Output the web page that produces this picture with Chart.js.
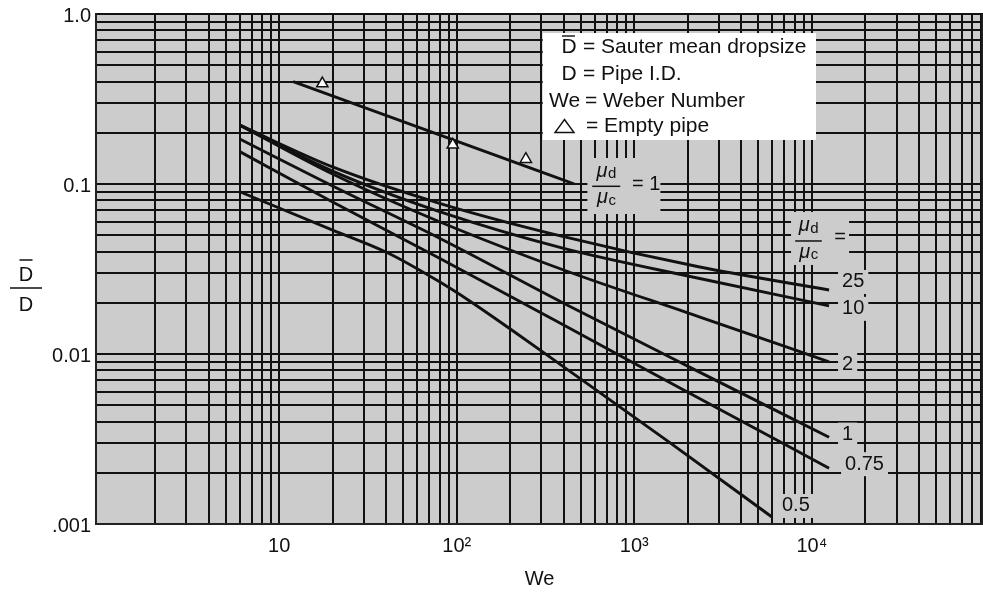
<!DOCTYPE html>
<html>
<head>
<meta charset="utf-8">
<script src="https://cdn.jsdelivr.net/npm/chart.js@4"></script>
<style>
  html, body { margin: 0; padding: 0; background: #fff; }
</style>
</head>
<body>
<canvas id="chart" width="983" height="593"></canvas>
<script>
// D/D against Weber number, one curve per viscosity ratio
const ratioLabels = ['25', '10', '2', '1', '0.75', '0.5'];
const weRatio = [6, 20, 80, 400, 2300, 12500];
const d25 = [0.222, 0.126, 0.077, 0.049, 0.0326, 0.0238];
const d10 = [0.222, 0.119, 0.0687, 0.0418, 0.0279, 0.0192];
const d2 = [0.222, 0.1145, 0.060, 0.0312, 0.0166, 0.0090];
const d1 = [0.184, 0.0973, 0.048, 0.0199, 0.00788, 0.00324];
const d075 = [0.155, 0.0784, 0.0366, 0.0148, 0.00551, 0.00213];
const we05 = [6, 20, 41, 80, 116, 205, 400, 1550, 5960];
const d05 = [0.090, 0.0536, 0.0393, 0.0266, 0.0208, 0.0138, 0.0084, 0.00306, 0.0011];

// empty pipe: fitted line (mu_d/mu_c = 1) and measured points
const weEmptyFit = [12, 460];
const dEmptyFit = [0.40, 0.10];
const weEmptyPipe = [17.5, 95, 245];
const dEmptyPipe = [0.39, 0.17, 0.14];

const xTickValues = [10, 100, 1000, 10000];
const xTickLabels = ['10', '10²', '10³', '10⁴'];
const yTickValues = [1, 0.1, 0.01, 0.001];
const yTickLabels = ['1.0', '0.1', '0.01', '.001'];

const family = '"Liberation Sans", Arial, Helvetica, sans-serif';
const ink = '#111111';
const plotGray = '#cccccc';

function font(size, style) {
    return (style ? style + ' ' : '') + size + 'px ' + family;
}

function pts(xs, ys) {
    return xs.map((x, i) => ({x: x, y: ys[i]}));
}

// 1..9 x 10^n grid positions between lo and hi
function logGrid(lo, hi) {
    var out = [];
    for (var e = -4; e <= 6; e++) {
        for (var m = 1; m <= 9; m++) {
            var v = m * Math.pow(10, e);
            if (v >= lo * 0.999 && v <= hi * 1.001) out.push({value: v});
        }
    }
    return out;
}

function labelFor(values, labels, v) {
    for (var i = 0; i < values.length; i++) {
        if (Math.abs(values[i] - v) / values[i] < 1e-6) return labels[i];
    }
    return '';
}

function curve(label, xs, ys) {
    return {
        label: label,
        data: pts(xs, ys),
        showLine: true,
        borderColor: ink,
        borderWidth: 2.9,
        pointRadius: 0,
        cubicInterpolationMode: 'monotone',
    };
}

function endOf(chart, label) {
    var i = chart.data.datasets.findIndex(d => d.label === label);
    var p = chart.getDatasetMeta(i).data;
    return p[p.length - 1];
}

function muSub(ctx, cx, baseline, sub) {
    ctx.font = font(20, 'italic');
    var w1 = ctx.measureText('μ').width;
    ctx.font = font(15);
    var w2 = ctx.measureText(sub).width;
    var x0 = cx - (w1 + w2) / 2;
    ctx.textAlign = 'left';
    ctx.textBaseline = 'alphabetic';
    ctx.font = font(20, 'italic');
    ctx.fillText('μ', x0, baseline);
    ctx.font = font(15);
    ctx.fillText(sub, x0 + w1 + 0.5, baseline + 1.5);
}

function muFraction(ctx, cx, barY, half) {
    ctx.strokeStyle = ink;
    ctx.lineWidth = 1.5;
    ctx.beginPath();
    ctx.moveTo(cx - half, barY);
    ctx.lineTo(cx + half, barY);
    ctx.stroke();
    ctx.fillStyle = ink;
    muSub(ctx, cx, barY - 9.5, 'd');
    muSub(ctx, cx, barY + 17, 'c');
}

// no extra room for first/last tick labels: the plot fills the canvas edge
function noScalePadding(s) {
    s.paddingLeft = 0;
    s.paddingRight = 0;
    s.paddingTop = 0;
    s.paddingBottom = 0;
}

const plotBackground = {
    id: 'plotBackground',
    beforeDraw(chart) {
        const {ctx, chartArea: a} = chart;
        ctx.save();
        ctx.fillStyle = '#ffffff';
        ctx.fillRect(0, 0, chart.width, chart.height);
        ctx.fillStyle = plotGray;
        ctx.fillRect(a.left, a.top, a.right - a.left, a.bottom - a.top);
        ctx.restore();
    },
    beforeDatasetsDraw(chart) {
        const {ctx, chartArea: a} = chart;
        ctx.save();
        ctx.strokeStyle = '#222';
        ctx.lineWidth = 1.5;
        ctx.beginPath();
        ctx.moveTo(a.right - 0.75, a.top);
        ctx.lineTo(a.right - 0.75, a.bottom);
        ctx.stroke();
        ctx.restore();
    }
};

// where each ratio label sits relative to the end of its curve
const labelOffsets = {'25': [13, -8], '10': [13, 3], '2': [13, 2.5], '1': [13, -2.6], '0.75': [16, -4], '0.5': [10, -11]};

const annotations = {
    id: 'annotations',
    afterDatasetsDraw(chart) {
        const ctx = chart.ctx;
        ctx.save();

        // ratio labels on gray patches
        ratioLabels.forEach(function (lab) {
            var e = endOf(chart, lab);
            var off = labelOffsets[lab];
            var x = e.x + off[0], y = e.y + off[1];
            ctx.font = font(20);
            var w = ctx.measureText(lab).width;
            ctx.fillStyle = plotGray;
            ctx.fillRect(x - 4, y - 12, w + 8, 24);
            ctx.fillStyle = ink;
            ctx.textAlign = 'left';
            ctx.textBaseline = 'middle';
            ctx.fillText(lab, x, y);
        });

        // "mu_d / mu_c =" header above the labels
        var e25 = endOf(chart, '25');
        ctx.fillStyle = plotGray;
        ctx.fillRect(e25.x - 38, e25.y - 78, 58, 53);
        muFraction(ctx, e25.x - 20.6, e25.y - 49, 13.3);
        ctx.font = font(20);
        ctx.textAlign = 'center';
        ctx.textBaseline = 'middle';
        ctx.fillText('=', e25.x + 11, e25.y - 52);

        // "mu_d / mu_c = 1" at the end of the empty pipe line
        var ee = endOf(chart, 'empty');
        ctx.fillStyle = plotGray;
        ctx.fillRect(ee.x + 13, ee.y - 26, 73, 56);
        muFraction(ctx, ee.x + 31.8, ee.y + 2.3, 14);
        ctx.fillStyle = ink;
        ctx.font = font(20);
        ctx.textAlign = 'left';
        ctx.textBaseline = 'middle';
        ctx.fillText('= 1', ee.x + 57.7, ee.y + 0.6);

        // key box
        ctx.fillStyle = '#ffffff';
        ctx.fillRect(542.7, 33, 273.3, 107);
        ctx.fillStyle = ink;
        ctx.font = font(21);
        ctx.textAlign = 'left';
        ctx.textBaseline = 'alphabetic';
        ctx.fillText('D', 561.5, 53.3);
        ctx.fillText('= Sauter mean dropsize', 583, 53.3);
        ctx.fillText('D', 561.5, 80);
        ctx.fillText('= Pipe I.D.', 583, 80);
        ctx.fillText('We', 549, 106.7);
        ctx.fillText('= Weber Number', 585, 106.7);
        ctx.fillText('= Empty pipe', 586, 131.5);
        ctx.strokeStyle = ink;
        ctx.lineWidth = 1.4;
        ctx.beginPath();
        ctx.moveTo(562, 36);
        ctx.lineTo(575, 36);
        ctx.stroke();
        ctx.beginPath();
        ctx.moveTo(564.5, 119.5);
        ctx.lineTo(574, 132.5);
        ctx.lineTo(555, 132.5);
        ctx.closePath();
        ctx.stroke();

        // y title: D-bar over D
        ctx.font = font(20);
        ctx.textAlign = 'center';
        ctx.textBaseline = 'alphabetic';
        ctx.fillText('D', 26, 280.5);
        ctx.fillText('D', 26, 310.7);
        ctx.beginPath();
        ctx.moveTo(19.5, 260);
        ctx.lineTo(32.5, 260);
        ctx.moveTo(10, 288);
        ctx.lineTo(42, 288);
        ctx.stroke();

        ctx.restore();
    }
};

new Chart(document.getElementById('chart'), {
    type: 'scatter',
    data: {
        datasets: [
            {
                label: 'empty pipe',
                data: pts(weEmptyPipe, dEmptyPipe),
                pointStyle: 'triangle',
                pointRadius: 6.5,
                backgroundColor: '#ffffff',
                borderColor: ink,
                borderWidth: 1.5,
            },
            curve('empty', weEmptyFit, dEmptyFit),
            curve('25', weRatio, d25),
            curve('10', weRatio, d10),
            curve('2', weRatio, d2),
            curve('1', weRatio, d1),
            curve('0.75', weRatio, d075),
            curve('0.5', we05, d05),
        ]
    },
    options: {
        responsive: false,
        animation: false,
        events: [],
        layout: {autoPadding: false, padding: {top: 14, right: 0, bottom: 0, left: 0}},
        plugins: {
            legend: {display: false},
            tooltip: {enabled: false},
        },
        scales: {
            x: {
                type: 'logarithmic',
                min: 0.93,
                max: 92000,
                afterBuildTicks: s => { s.ticks = logGrid(2, 90000); },
                afterFit: s => { s.height = 69; noScalePadding(s); },
                grid: {color: ink, lineWidth: 2, drawTicks: false},
                border: {display: true, color: '#222', width: 2},
                ticks: {
                    autoSkip: false,
                    maxRotation: 0,
                    padding: 10,
                    color: ink,
                    font: {family: family, size: 20},
                    callback: v => labelFor(xTickValues, xTickLabels, v),
                },
                title: {
                    display: true,
                    text: 'We',
                    color: ink,
                    font: {family: family, size: 20},
                    padding: {top: 0, bottom: 2},
                },
            },
            y: {
                type: 'logarithmic',
                min: 0.001,
                max: 1,
                afterBuildTicks: s => { s.ticks = logGrid(0.001, 1); },
                afterFit: s => { s.width = 96; noScalePadding(s); },
                grid: {color: ink, lineWidth: 2, drawTicks: false},
                border: {display: true, color: '#222', width: 2},
                ticks: {
                    autoSkip: false,
                    padding: 5,
                    labelOffset: 2,
                    color: ink,
                    font: {family: family, size: 20},
                    callback: v => labelFor(yTickValues, yTickLabels, v),
                },
            },
        },
    },
    plugins: [plotBackground, annotations],
});
</script>
</body>
</html>
